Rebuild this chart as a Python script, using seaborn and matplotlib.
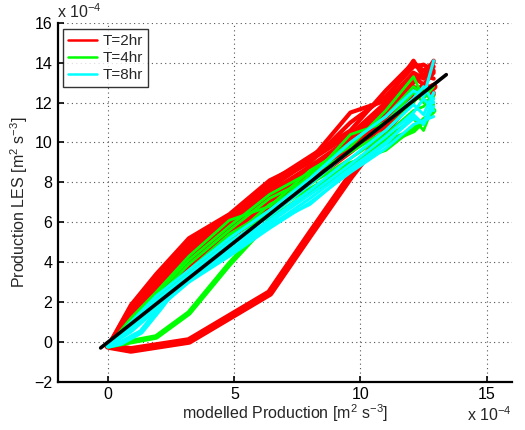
import matplotlib
matplotlib.use("Agg")
import matplotlib.pyplot as plt
from matplotlib.lines import Line2D
import numpy as np
import pandas as pd
import seaborn as sns

# Modelled production (x 1e-4 m^2 s^-3) sampled along each run
x_grid = [0.0, 0.9, 1.9, 3.2, 4.8, 6.4, 8.0, 9.6, 11.0, 12.1, 12.5, 12.9]

# LES production for the T=2hr runs
red_runs = [
    [-0.2, 1.85, 3.4, 5.2, 6.4, 8.1, 9.1, 11.5, 12.1, 14.1, 13.3, 14.1],
    [-0.2, 1.75, 3.3, 5.1, 6.3, 8.0, 9.3, 10.6, 12.6, 14.0, 13.6, 14.0],
    [-0.2, 1.65, 3.1, 4.9, 6.2, 7.9, 9.0, 11.0, 12.3, 13.8, 13.9, 13.6],
    [-0.2, 1.55, 3.0, 4.7, 6.0, 7.7, 9.1, 10.4, 12.0, 13.5, 13.2, 13.8],
    [-0.2, 1.45, 2.85, 4.5, 5.9, 7.5, 8.8, 10.2, 11.8, 13.3, 12.9, 13.5],
    [-0.2, 1.35, 2.75, 4.3, 5.7, 7.3, 8.6, 10.0, 11.6, 13.0, 13.4, 13.2],
    [-0.2, 1.25, 2.6, 4.1, 5.6, 7.1, 8.4, 9.9, 11.4, 12.8, 12.5, 12.9],
    [-0.2, 1.15, 2.5, 3.95, 5.45, 6.9, 8.3, 9.7, 11.2, 12.5, 12.9, 12.7],
    [-0.2, 1.05, 2.4, 3.8, 5.3, 6.75, 8.15, 9.6, 11.0, 12.3, 12.4, 12.5],
    [-0.2, 0.95, 2.3, 3.7, 5.2, 6.6, 8.0, 9.5, 10.9, 12.1, 12.6, 12.4],
]
red_low_x = [0.0, 0.9, 3.2, 6.4, 8.0, 9.6, 11.0, 12.1, 12.9]
red_low_y = [-0.2, -0.4, 0.05, 2.45, 5.4, 8.3, 10.6, 12.3, 12.8]

# LES production for the T=4hr runs
green_runs = [
    [-0.2, 1.2, 2.5, 4.3, 6.1, 6.8, 8.6, 9.8, 11.6, 13.3, 12.2, 12.8],
    [-0.2, 1.0, 2.2, 3.9, 5.6, 7.2, 8.2, 10.4, 11.0, 12.5, 12.0, 12.3],
    [-0.2, 0.9, 2.0, 3.6, 5.4, 6.6, 8.4, 9.5, 10.6, 12.0, 12.6, 12.0],
    [-0.2, 0.8, 1.9, 3.4, 5.1, 6.9, 7.9, 9.2, 10.4, 11.6, 11.8, 12.4],
    [-0.2, 0.7, 1.8, 3.3, 4.9, 6.5, 7.7, 8.9, 10.2, 11.2, 10.6, 11.9],
    [-0.2, 0.8, 2.1, 3.5, 5.3, 6.3, 8.0, 9.0, 9.6, 10.7, 11.2, 11.5],
    [-0.2, 1.1, 2.4, 4.1, 5.8, 7.4, 8.5, 10.0, 11.3, 12.8, 12.4, 12.2],
]
green_low_x = [0.0, 1.9, 3.2, 4.8, 6.4, 8.0, 9.6, 11.0, 12.1, 12.9]
green_low_y = [-0.2, 0.25, 1.45, 3.9, 6.1, 7.5, 8.8, 10.0, 10.6, 11.6]

# LES production for the T=8hr runs
cyan_runs = [
    [-0.2, 1.0, 2.3, 3.6, 5.2, 6.6, 8.2, 10.0, 11.3, 12.6, 12.3, 14.1],
    [-0.2, 0.9, 2.1, 3.4, 5.0, 6.3, 7.9, 9.6, 11.0, 12.2, 12.8, 12.0],
    [-0.2, 0.8, 2.0, 3.3, 4.8, 6.1, 7.6, 9.2, 10.6, 11.9, 11.4, 12.5],
    [-0.2, 0.7, 1.9, 3.2, 4.6, 6.0, 7.4, 8.9, 10.3, 11.5, 12.2, 11.6],
    [-0.2, 0.6, 1.8, 3.1, 4.5, 5.8, 7.2, 8.7, 10.0, 11.2, 11.0, 12.2],
    [-0.2, 0.5, 1.6, 3.0, 4.3, 5.7, 7.0, 8.5, 9.7, 10.9, 11.1, 11.3],
    [-0.2, 0.7, 1.9, 3.3, 4.4, 5.9, 6.9, 8.6, 9.9, 11.4, 10.9, 11.8],
]
cyan_low_x = [0.0, 0.5, 1.3, 2.1, 2.6, 3.2, 4.8, 6.4]
cyan_low_y = [-0.2, -0.05, 0.5, 1.75, 2.6, 3.1, 4.5, 5.9]

# 1:1 reference line
ref_x = [-0.3, 13.4]
ref_y = [-0.3, 13.4]

labels = ["T=2hr", "T=4hr", "T=8hr"]
colors = ["#ff0000", "#00ff00", "#00ffff"]


def runs_frame(runs, xs):
    rows = []
    for k, ys in enumerate(runs):
        for xv, yv in zip(xs, ys):
            rows.append({"x": xv, "y": yv, "run": k})
    return pd.DataFrame(rows)


sns.set_theme(style="white")
plt.rcParams["font.family"] = ["Liberation Sans", "DejaVu Sans"]
plt.rcParams["mathtext.fontset"] = "custom"
plt.rcParams["mathtext.rm"] = "Liberation Sans"
plt.rcParams["mathtext.it"] = "Liberation Sans:italic"

fig = plt.figure(figsize=(5.25, 4.3), dpi=100)
ax = fig.add_axes([0.110, 0.112, 0.865, 0.835])

groups = [
    (red_runs, red_low_x, red_low_y, colors[0], 3.0, 5.5),
    (green_runs, green_low_x, green_low_y, colors[1], 2.0, 4.0),
    (cyan_runs, cyan_low_x, cyan_low_y, colors[2], 2.2, 4.0),
]
for runs, lx, ly, col, lw_run, lw_low in groups:
    df = runs_frame(runs, x_grid)
    sns.lineplot(data=df, x="x", y="y", units="run", estimator=None,
                 sort=False, color=col, lw=lw_run, ax=ax, legend=False)
    low = pd.DataFrame({"x": lx, "y": ly})
    sns.lineplot(data=low, x="x", y="y", sort=False, color=col,
                 lw=lw_low, ax=ax, legend=False)

ref = pd.DataFrame({"x": ref_x, "y": ref_y})
sns.lineplot(data=ref, x="x", y="y", sort=False, color="black", lw=2.6,
             ax=ax, legend=False)

ax.set_xlim(-2, 16)
ax.set_ylim(-2, 16)
ax.set_xticks([0, 5, 10, 15])
ax.set_yticks(np.arange(-2, 17, 2))
ax.set_yticklabels(["\u22122"] + [str(v) for v in range(0, 17, 2)])
ax.grid(True, color="#555555", linestyle=(0, (1, 3)), lw=0.8)
for s in ["top", "right"]:
    ax.spines[s].set_visible(False)
for s in ["left", "bottom"]:
    ax.spines[s].set_color("black")
    ax.spines[s].set_linewidth(1.6)
ax.tick_params(direction="in", length=4, width=1.2, colors="black",
               labelsize=11.5, pad=4, left=True, bottom=True)

ax.set_xlabel("modelled Production [m$^2$ s$^{-3}$]", fontsize=11.5)
ax.xaxis.set_label_coords(0.5, -0.058)
ax.set_ylabel("Production LES [m$^2$ s$^{-3}$]", fontsize=11.5)
ax.yaxis.set_label_coords(-0.062, 0.5)

fig.text(0.108, 0.952, "x 10$^{-4}$", fontsize=11.5, ha="left", va="bottom")
fig.text(0.975, 0.014, "x 10$^{-4}$", fontsize=11.5, ha="right", va="bottom")

handles = [Line2D([0], [0], color=c, lw=1.8) for c in colors]
leg = ax.legend(handles, labels, loc="upper left", bbox_to_anchor=(0.005, 0.99),
                fontsize=11, frameon=True, fancybox=False, handlelength=1.9,
                borderpad=0.3, labelspacing=0.2, handletextpad=0.4,
                borderaxespad=0.2)
leg.get_frame().set_edgecolor("black")
leg.get_frame().set_linewidth(1.0)

fig.savefig("out.png", dpi=100)
